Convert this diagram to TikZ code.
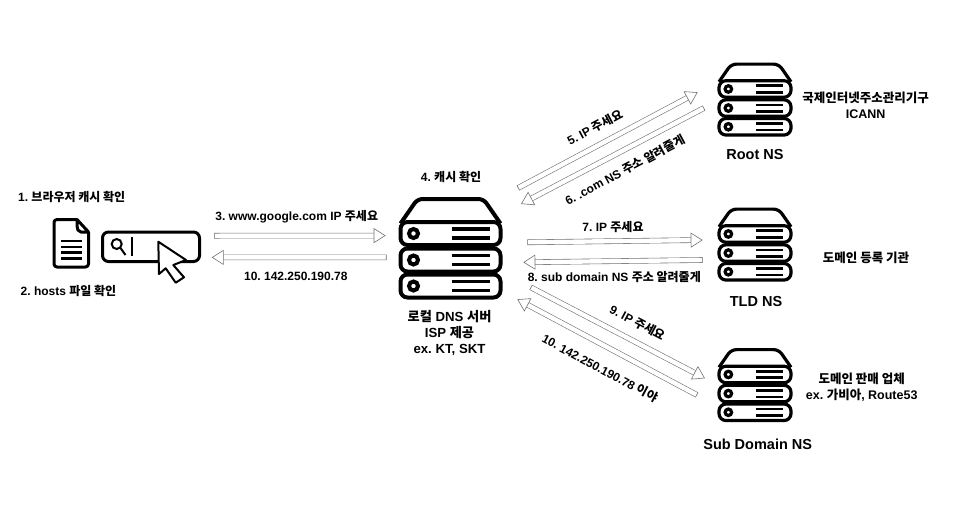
\documentclass[tikz,border=0pt]{standalone}
\usepackage{fontspec}
\setmainfont{Liberation Sans}
\newfontfamily\krfont{Noto Sans CJK KR}
\newcommand{\ko}[1]{{\krfont #1}}
\frenchspacing
\usetikzlibrary{arrows.meta}
\tikzset{
    txt/.style={font=\bfseries\fontsize{12}{16.3}\selectfont, align=center, inner sep=0pt},
    notetxt/.style={font=\bfseries\fontsize{12.5}{16.3}\selectfont, align=center, inner sep=0pt},
    dnstxt/.style={font=\bfseries\fontsize{13.2}{16.3}\selectfont, align=center, inner sep=0pt},
    bigtxt/.style={font=\bfseries\fontsize{14.5}{17}\selectfont, inner sep=0pt},
    hollow/.style={draw=black!55, line width=0.6pt, double=white, double distance=4.4pt,
        {Bar[width=5.6pt,line width=0.6pt]}-{Triangle[open,fill=white,length=12pt,width=15pt,line width=0.6pt]}},
    pics/server/.style={code={
        \draw[line width=#1pt, line join=round, rounded corners=5pt] (-50,-26) -- (-33,-50.5) -- (33,-50.5) -- (50,-26);
        \foreach \r in {-16,10.5,36.5}
        {
            \draw[line width=#1pt, fill=white, rounded corners=7pt] (-50,\r-11.5) rectangle (50,\r+11.5);
            \draw[line width=#1pt] (-37,\r) circle (4.5);
            \draw[line width=0.8*#1pt] (1,\r-4.5) -- (39,\r-4.5);
            \draw[line width=0.8*#1pt] (1,\r+4.5) -- (39,\r+4.5);
        }
    }}
}
\begin{document}
\begin{tikzpicture}[x=1pt,y=-1pt]
    \useasboundingbox (0,0) rectangle (958,514);

    % servers
    \pic at (450.5,249.5) {server=4};
    \foreach \sx/\sy in {755/100.5, 755/245.5, 755/386}
    {
        \pic[scale=0.72] at (\sx,\sy) {server=3.2};
    }

    % page icon
    \draw[line width=3pt, line join=round, rounded corners=3pt] (77,219.5) -- (54,219.5) -- (54,267) -- (88.5,267) -- (88.5,232);
    \draw[line width=3pt, line join=round] (77,219.5) -- (88.5,232) -- (81,232) to[out=180,in=-90] (77,226) -- cycle;
    \foreach \y in {240.7,246.7,252.3,258.3}
    {
        \draw[line width=2.4pt] (61,\y) -- (81.7,\y);
    }

    % search box
    \draw[line width=3pt, rounded corners=6pt] (102.5,232) rectangle (199.5,261.5);
    \draw[line width=2pt] (116.7,244) circle (5);
    \draw[line width=2pt] (120.5,248) -- (125.5,255);
    \draw[line width=2pt] (131.7,237) -- (131.7,256);
    \draw[line width=2pt, fill=white, line join=round] (158.3,241.7) -- (186,260) -- (173.3,265) -- (184,277.3)
        -- (175.7,282.7) -- (165.7,268.3) -- (159,274) -- cycle;

    % arrows
    \foreach \n/\ax/\ay/\bx/\by in {
        a/214/235.7/385.7/235.6,
        b/386.5/257.3/211.7/257.4,
        c/518/188/697.7/92.3,
        d/704/108/521/204,
        e/527.3/242.3/702.7/240,
        f/702.7/260/523.3/262.3,
        g/530.7/287.3/705/378.3,
        h/697/395/517.3/299.3}
    {
        \coordinate (from\n) at (\ax,\ay);
        \coordinate (to\n) at (\bx,\by);
        \draw[hollow] (from\n) -- (to\n);
    }

    % labels
    \foreach \n/\x/\y/\a/\labeltext in {
        browser/71.7/196.7/0/{1. \ko{브라우저 캐시 확인}},
        hosts/68.5/290.7/0/{2. hosts \ko{파일 확인}},
        query/296.7/217/0/{3. www.google.com IP \ko{주세요}},
        answer/295.8/276.7/0/{10. 142.250.190.78},
        cache/451/176.7/0/{4. \ko{캐시 확인}},
        rootask/595/127.3/28/{5. IP \ko{주세요}},
        rootans/625/170/28/{6. .com NS \ko{주소 알려줄게}},
        tldask/613/226.7/0/{7. IP \ko{주세요}},
        tldans/614.3/276.7/0/{8. sub domain NS \ko{주소 알려줄게}},
        subask/637.7/322.7/-28/{9. IP \ko{주세요}},
        subans/600/368/-28/{10. 142.250.190.78 \ko{이야}}}
    {
        \node[txt, rotate=\a] (\n) at (\x,\y) {\labeltext};
    }
    \node[dnstxt] (localdns) at (449.5,333) {\ko{로컬} DNS \ko{서버}\\ISP \ko{제공}\\ex. KT, SKT};
    \node[notetxt] (icann) at (865.7,105) {\ko{국제인터넷주소관리기구}\\ICANN};
    \node[notetxt] (registry) at (866,258) {\ko{도메인 등록 기관}};
    \node[notetxt] (seller) at (861.7,387.5) {\ko{도메인 판매 업체}\\ex. \ko{가비아}, Route53};
    \node[bigtxt] (rootname) at (755,154.3) {Root NS};
    \node[bigtxt] (tldname) at (756,301.7) {TLD NS};
    \node[bigtxt] (subname) at (757.7,444.3) {Sub Domain NS};
\end{tikzpicture}
\end{document}
